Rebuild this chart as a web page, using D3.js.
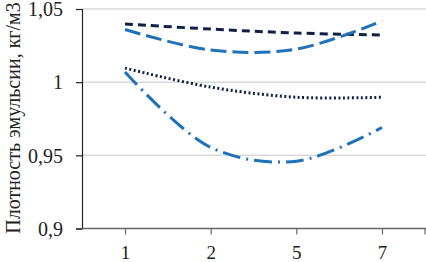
<!DOCTYPE html>
<html>
<head>
<meta charset="utf-8">
<script src="https://cdn.jsdelivr.net/npm/d3@7"></script>
<style>
  body { margin: 0; background: #fff; }
  svg { display: block; }
</style>
</head>
<body>
<svg width="426" height="262"></svg>
<script>
// categories on the x axis
var categories = ["1", "2", "5", "7"];

// series values
var seriesDashed   = [1.0397, 1.0363, 1.0336, 1.0322];
var seriesLongDash = [1.0360, 1.0220, 1.0226, 1.0418];
var seriesDotted   = [1.0096, 0.9966, 0.9897, 0.9897];
var seriesDashDot  = [1.0070, 0.9555, 0.9460, 0.9690];

// y tick labels
var yTicks = [0.9, 0.95, 1, 1.05];
var yTickLabels = ["0,9", "0,95", "1", "1,05"];

var svg = d3.select("svg"),
    width = +svg.attr("width"),
    height = +svg.attr("height");

// plot area edges (note: "top" is reserved on window)
var plotLeft = 82, plotRight = 426, plotTop = 9, plotBottom = 228.5;

var x = d3.scalePoint()
    .domain(categories)
    .range([125, 382]);

var y = d3.scaleLinear()
    .domain([0.9, 1.05])
    .range([plotBottom, plotTop]);

// gridlines
svg.append("g")
  .selectAll("line")
  .data(yTicks.slice(1))
  .enter().append("line")
    .attr("x1", plotLeft).attr("x2", plotRight)
    .attr("y1", function(d) { return y(d); })
    .attr("y2", function(d) { return y(d); })
    .attr("stroke", "#d9d9d9")
    .attr("stroke-width", 1.5);

// y axis
var yAxis = d3.axisLeft(y)
    .tickValues(yTicks)
    .tickSize(6)
    .tickFormat(function(d, i) { return yTickLabels[i]; });

var gy = svg.append("g")
    .attr("transform", "translate(" + plotLeft + ",0)")
    .call(yAxis);
gy.select(".domain").attr("stroke", "#222").attr("stroke-width", 1.2);
gy.selectAll(".tick line").attr("stroke", "#222").attr("stroke-width", 1.2);
gy.selectAll(".tick text")
    .attr("x", -19)
    .attr("dy", "0.34em")
    .style("font-family", "'Liberation Serif', 'Times New Roman', serif")
    .style("font-size", "20px")
    .attr("fill", "#222");

// x axis
var xAxis = d3.axisBottom(x)
    .tickSize(6)
    .tickSizeOuter(0);

var gx = svg.append("g")
    .attr("transform", "translate(0," + plotBottom + ")")
    .call(xAxis);
gx.select(".domain").attr("d", "M" + plotLeft + ",0H" + plotRight).attr("stroke", "#666").attr("stroke-width", 1.5);
gx.selectAll(".tick line").attr("stroke", "#666").attr("stroke-width", 1.2);
gx.append("line")
    .attr("x1", 425).attr("x2", 425)
    .attr("y1", 0).attr("y2", 6)
    .attr("stroke", "#666").attr("stroke-width", 1.2);
gx.selectAll(".tick text")
    .attr("y", 17)
    .attr("dy", "0.71em")
    .style("font-family", "'Liberation Serif', 'Times New Roman', serif")
    .style("font-size", "19px")
    .attr("fill", "#222");

// y axis title
svg.append("text")
    .attr("transform", "translate(20,118) rotate(-90)")
    .attr("text-anchor", "middle")
    .style("font-family", "'Liberation Serif', 'Times New Roman', serif")
    .style("font-size", "20px")
    .attr("fill", "#222")
    .text("Плотность эмульсии, кг/м3");

// series lines
var line = d3.line()
    .x(function(d, i) { return x(categories[i]); })
    .y(function(d) { return y(d); })
    .curve(d3.curveCatmullRom.alpha(0.5));

var series = [
  {values: seriesDashed,   color: "#0f2147", dash: "8,5"},
  {values: seriesLongDash, color: "#1f72b8", dash: "16,6"},
  {values: seriesDotted,   color: "#0f2147", dash: "2,2.5"},
  {values: seriesDashDot,  color: "#1f72b8", dash: "18,6,2,6"}
];

svg.append("g")
  .selectAll("path")
  .data(series)
  .enter().append("path")
    .attr("d", function(d) { return line(d.values); })
    .attr("fill", "none")
    .attr("stroke", function(d) { return d.color; })
    .attr("stroke-width", 3)
    .attr("stroke-dasharray", function(d) { return d.dash; });
</script>
</body>
</html>
